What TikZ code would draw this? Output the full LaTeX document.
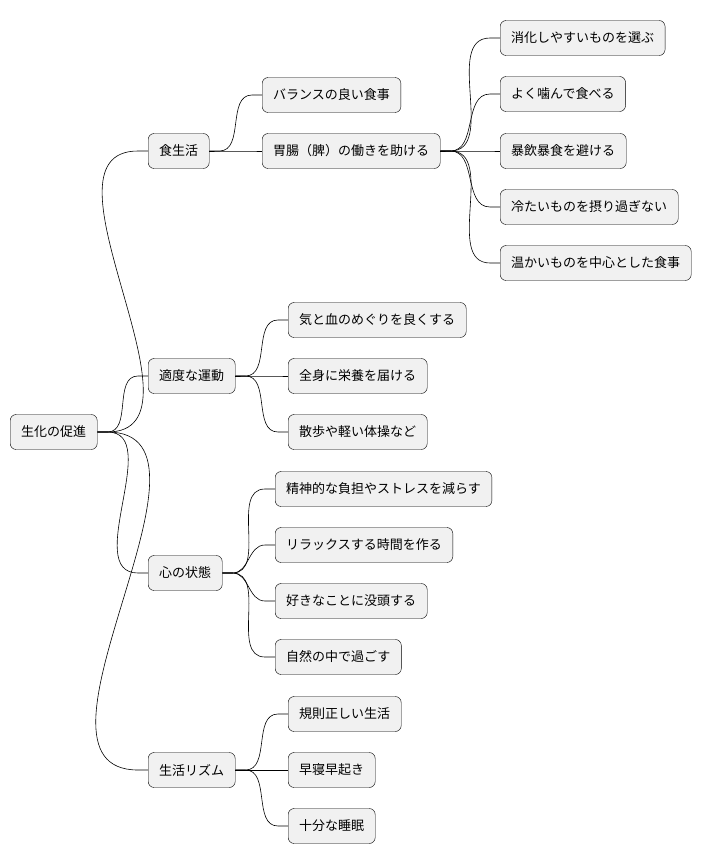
\documentclass[tikz,border=0pt]{standalone}
\usepackage{fontspec}
\setmainfont{Noto Sans CJK JP}
\usetikzlibrary{positioning}
\definecolor{boxfill}{HTML}{F1F1F1}
\tikzset{
  topic/.style={draw=black,fill=boxfill,rounded corners=6pt,anchor=west,
    minimum height=35pt,inner xsep=11pt,font=\fontsize{13}{15}\selectfont},
  link/.style={draw=black,line width=0.6pt}
}
\newcommand{\conn}[2]{\draw[link] (#1.east) -- ++(10pt,0) to[out=0,in=180] ([xshift=-10pt]#2.west) -- (#2.west);}
\begin{document}
\begin{tikzpicture}[x=1pt,y=-1pt]
	\useasboundingbox (0,0) rectangle (712,865);
	% root
	\node[topic] (root) at (10,432) {生化の促進};
	% level 1
	\node[topic] (food) at (148,151) {食生活};
	\node[topic] (move) at (148,376) {適度な運動};
	\node[topic] (mind) at (148,573) {心の状態};
	\node[topic] (rhythm) at (148,770) {生活リズム};
	% food
	\node[topic] (bal) at (262,95) {バランスの良い食事};
	\node[topic] (gut) at (262,151) {胃腸（脾）の働きを助ける};
	\node[topic] (g1) at (500,38) {消化しやすいものを選ぶ};
	\node[topic] (g2) at (500,94) {よく噛んで食べる};
	\node[topic] (g3) at (500,151) {暴飲暴食を避ける};
	\node[topic] (g4) at (500,207) {冷たいものを摂り過ぎない};
	\node[topic] (g5) at (500,263) {温かいものを中心とした食事};
	% move
	\node[topic] (m1) at (288,320) {気と血のめぐりを良くする};
	\node[topic] (m2) at (288,376) {全身に栄養を届ける};
	\node[topic] (m3) at (288,432) {散歩や軽い体操など};
	% mind
	\node[topic] (k1) at (275,489) {精神的な負担やストレスを減らす};
	\node[topic] (k2) at (275,545) {リラックスする時間を作る};
	\node[topic] (k3) at (275,601) {好きなことに没頭する};
	\node[topic] (k4) at (275,657) {自然の中で過ごす};
	% rhythm
	\node[topic] (r1) at (288,714) {規則正しい生活};
	\node[topic] (r2) at (288,770) {早寝早起き};
	\node[topic] (r3) at (288,826) {十分な睡眠};
	% connectors
	\foreach \c in {food,move,mind,rhythm} {\conn{root}{\c}}
	\foreach \c in {bal,gut} {\conn{food}{\c}}
	\foreach \c in {g1,g2,g3,g4,g5} {\conn{gut}{\c}}
	\foreach \c in {m1,m2,m3} {\conn{move}{\c}}
	\foreach \c in {k1,k2,k3,k4} {\conn{mind}{\c}}
	\foreach \c in {r1,r2,r3} {\conn{rhythm}{\c}}
\end{tikzpicture}
\end{document}
